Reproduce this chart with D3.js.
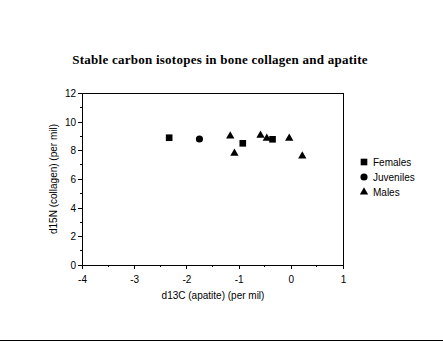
<!DOCTYPE html>
<html><head><meta charset="utf-8">
<script src="https://cdn.jsdelivr.net/npm/d3@7"></script>
<style>body{margin:0;background:#fff}svg{display:block}</style>
</head><body>
<script>
const females = [{x:-2.33,y:8.88},{x:-0.92,y:8.49},{x:-0.35,y:8.77}];
const juveniles = [{x:-1.75,y:8.79}];
const males = [{x:-1.16,y:9.0},{x:-1.08,y:7.79},{x:-0.58,y:9.05},{x:-0.46,y:8.84},{x:-0.03,y:8.84},{x:0.22,y:7.6}];
const xTicks = [-4,-3,-2,-1,0,1];
const yTicks = [0,2,4,6,8,10,12];
const seriesNames = ["Females","Juveniles","Males"];

const W=443,H=342;
const svg=d3.select("body").append("svg").attr("width",W).attr("height",H);
const x=d3.scaleLinear().domain([-4,1]).range([82,343]);
const y=d3.scaleLinear().domain([0,12]).range([265,93]);
const font="Arial, 'Liberation Sans', sans-serif";

svg.append("text").attr("x",220).attr("y",64).attr("text-anchor","middle")
  .attr("font-family","'Liberation Serif', 'Times New Roman', serif").attr("font-weight","bold")
  .attr("font-size",13).attr("letter-spacing",0.25).text("Stable carbon isotopes in bone collagen and apatite");

// frame
svg.append("rect").attr("x",x(-4)).attr("y",y(12)).attr("width",x(1)-x(-4)).attr("height",y(0)-y(12))
  .attr("fill","none").attr("stroke","#000").attr("stroke-width",1).attr("shape-rendering","crispEdges");

const fmt=d=>String(d);
const xa=svg.append("g").attr("transform",`translate(0,${y(0)})`)
  .call(d3.axisBottom(x).tickValues(xTicks).tickSize(4).tickSizeOuter(0).tickFormat(fmt));
const ya=svg.append("g").attr("transform",`translate(${x(-4)},0)`)
  .call(d3.axisLeft(y).tickValues(yTicks).tickSize(4).tickSizeOuter(0).tickFormat(fmt));
[xa,ya].forEach(g=>{g.select(".domain").remove();g.selectAll("text").attr("font-family",font).attr("font-size",10).attr("fill","#000");
  g.selectAll("line").attr("stroke","#000").attr("shape-rendering","crispEdges");});
xa.selectAll("text").attr("dy","1.1em");
ya.selectAll("text").attr("x",-6).attr("dy","0.35em");
// minor ticks
svg.append("g").selectAll("line").data(d3.range(-3.5,1,1)).join("line")
  .attr("x1",d=>x(d)).attr("x2",d=>x(d)).attr("y1",y(0)).attr("y2",y(0)+2).attr("stroke","#000").attr("shape-rendering","crispEdges");
svg.append("g").selectAll("line").data(d3.range(1,12,2)).join("line")
  .attr("y1",d=>y(d)).attr("y2",d=>y(d)).attr("x1",x(-4)-2).attr("x2",x(-4)).attr("stroke","#000").attr("shape-rendering","crispEdges");

svg.append("text").attr("x",213).attr("y",299).attr("text-anchor","middle").attr("font-family",font).attr("font-size",10).text("d13C (apatite) (per mil)");
svg.append("text").attr("transform",`translate(57,179) rotate(-90)`).attr("text-anchor","middle").attr("font-family",font).attr("font-size",10).text("d15N (collagen) (per mil)");

const sq=d3.symbol().type(d3.symbolSquare).size(44);
const ci=d3.symbol().type(d3.symbolCircle).size(40);
const tr=d3.symbol().type(d3.symbolTriangle).size(30);
const sets=[[females,sq],[juveniles,ci],[males,tr]];
sets.forEach(([data,sym])=>{
  svg.append("g").selectAll("path").data(data).join("path")
    .attr("transform",d=>`translate(${x(d.x)},${y(d.y)})`).attr("d",sym).attr("fill","#000");
});
// legend
const ly=[162,177,192];
seriesNames.forEach((n,i)=>{
  svg.append("path").attr("transform",`translate(364,${ly[i]})`).attr("d",sets[i][1]).attr("fill","#000");
  svg.append("text").attr("x",373).attr("y",ly[i]).attr("dy","0.35em").attr("font-family",font).attr("font-size",10).text(n);
});
svg.append("line").attr("x1",0).attr("x2",W).attr("y1",340.5).attr("y2",340.5).attr("stroke","#000");
</script>
</body></html>
